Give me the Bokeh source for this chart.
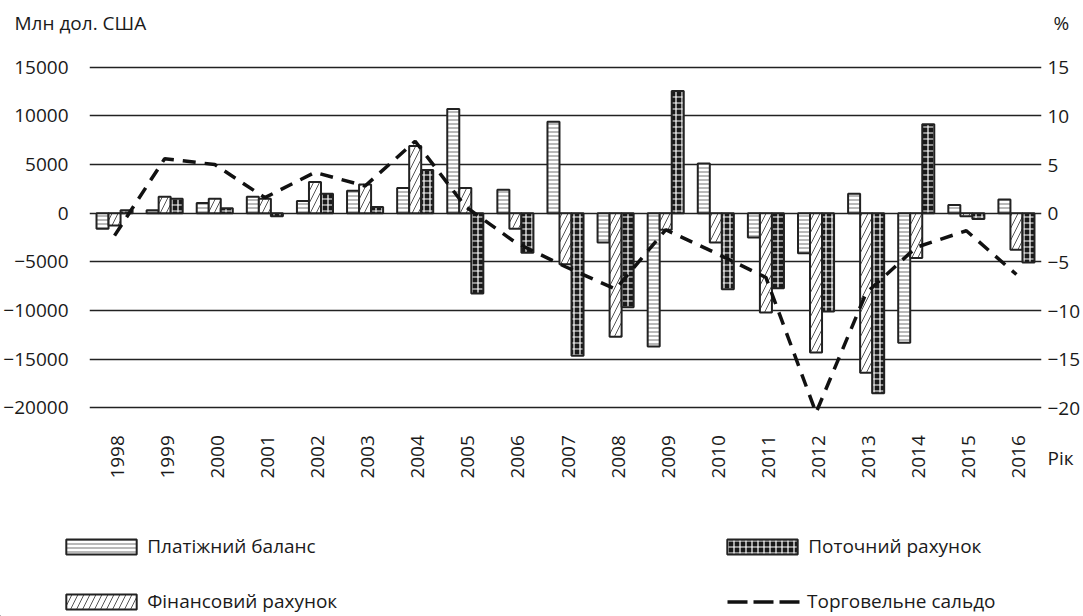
import math
from bokeh.plotting import figure
from bokeh.models import (ColumnDataSource, Range1d, LinearAxis, FixedTicker,
                          Legend, LegendItem)
from bokeh.layouts import column
from bokeh.transform import dodge
from bokeh.core.properties import value
from bokeh.embed import file_html
from bokeh.resources import INLINE

# ---------------- data ----------------
years = ["1998", "1999", "2000", "2001", "2002", "2003", "2004", "2005", "2006", "2007",
         "2008", "2009", "2010", "2011", "2012", "2013", "2014", "2015", "2016"]
# Платіжний баланс, млн дол. США
balance = [-1600, 300, 1050, 1700, 1250, 2300, 2600, 10700, 2400, 9400,
           -3000, -13700, 5100, -2500, -4100, 2000, -13300, 850, 1400]
# Фінансовий рахунок, млн дол. США
financial = [-1250, 1700, 1500, 1500, 3200, 2950, 6900, 2600, -1600, -5250,
             -12700, -1700, -3000, -10200, -14300, -16400, -4600, -300, -3750]
# Поточний рахунок, млн дол. США
current = [300, 1500, 500, -300, 2000, 650, 4450, -8250, -4050, -14650,
           -9650, 12550, -7800, -7700, -10100, -18500, 9150, -600, -5050]
# Торговельне сальдо, %
trade = [-2.3, 5.6, 5.0, 1.6, 4.2, 2.8, 7.4, 0.7, -3.0, -5.5,
         -7.8, -1.7, -4.1, -6.6, -20.5, -8.2, -3.5, -1.8, -6.3]

left_ticks = [15000, 10000, 5000, 0, -5000, -10000, -15000, -20000]
left_labels = ["15000", "10000", "5000", "0", "\u22125000", "\u221210000", "\u221215000", "\u221220000"]
right_ticks = [15, 10, 5, 0, -5, -10, -15, -20]
right_labels = ["15", "10", "5", "0", "\u22125", "\u221210", "\u221215", "\u221220"]

series_names = ["Платіжний баланс", "Фінансовий рахунок", "Поточний рахунок", "Торговельне сальдо"]
unit_left = "Млн дол. США"
unit_right = "%"
x_title = "Рік"

FONT = "Open Sans"
FS = "19px"
INK = "#1a1a1a"
W_PAGE = 1083

# styles
W = 0.24
BAR_LINE = dict(line_color="#222222", line_width=2)
STY_BAL = dict(fill_color="white", hatch_pattern="horizontal_line", hatch_color="#8a8a8a",
               hatch_scale=4, hatch_weight=1.2, **BAR_LINE)
STY_FIN = dict(fill_color="white", hatch_pattern="right_diagonal_line", hatch_color="#555555",
               hatch_scale=12, hatch_weight=1, **BAR_LINE)
STY_CUR = dict(fill_color="#1a1a1a", hatch_pattern="cross", hatch_color="white",
               hatch_scale=6, hatch_weight=1.2, **BAR_LINE)
STY_TR = dict(line_color="#111111", line_width=3.5)


def blank_fig(h):
    f = figure(width=W_PAGE, height=h, x_range=Range1d(0, W_PAGE), y_range=Range1d(0, h),
               x_axis_type=None, y_axis_type=None, output_backend="svg",
               toolbar_location=None, min_border=0, frame_align=False)
    f.outline_line_color = None
    f.background_fill_color = "white"
    f.border_fill_color = "white"
    f.grid.visible = False
    return f

# ---------------- top strip (unit captions) ----------------
TOP_H = 45
top = blank_fig(TOP_H)
top.text(x=[14], y=[TOP_H - 22.5], text=[unit_left], text_font=value(FONT),
         text_font_size=FS, text_color=INK, text_align="left", text_baseline="middle")
top.text(x=[1053], y=[TOP_H - 22.5], text=[unit_right], text_font=value(FONT),
         text_font_size=FS, text_color=INK, text_align="left", text_baseline="middle")

# ---------------- main chart ----------------
src = ColumnDataSource(dict(year=years, balance=balance, financial=financial,
                            current=current, trade=trade))

MAIN_H = 435
# frame: page y 57..480 (423 px), 102.74 units per px
Y_TOP, Y_BOT = 16000, -27459
p = figure(x_range=years, y_range=Range1d(Y_BOT, Y_TOP),
           width=W_PAGE, height=MAIN_H, output_backend="svg", toolbar_location=None,
           x_axis_location=None, frame_align=False,
           min_border_left=88, min_border_right=41, min_border_top=12, min_border_bottom=0)
p.extra_y_ranges = {"pct": Range1d(Y_BOT / 1000.0, Y_TOP / 1000.0)}
p.outline_line_color = None
p.background_fill_color = "white"
p.border_fill_color = "white"

p.xgrid.visible = False
p.ygrid.ticker = FixedTicker(ticks=left_ticks)
p.ygrid.grid_line_color = "#222222"
p.ygrid.grid_line_width = 1.5

yl = p.yaxis[0]
yl.ticker = FixedTicker(ticks=left_ticks)
yl.major_label_overrides = {t: l for t, l in zip(left_ticks, left_labels)}
# right axis: % ticks plus the x-axis caption "Рік" below the plot
rk_pos = -25.15
yr = LinearAxis(y_range_name="pct", ticker=FixedTicker(ticks=right_ticks + [rk_pos]))
ov = {t: l for t, l in zip(right_ticks, right_labels)}
ov[rk_pos] = x_title
yr.major_label_overrides = ov
p.add_layout(yr, "right")

for ax in [yl, yr]:
    ax.axis_line_color = None
    ax.major_tick_line_color = None
    ax.minor_tick_line_color = None
    ax.major_tick_out = 0
    ax.major_tick_in = 0
    ax.major_label_text_font = FONT
    ax.major_label_text_font_size = FS
    ax.major_label_text_color = INK
yl.major_label_standoff = 21
yr.major_label_standoff = 6

r_bal = p.vbar(x=dodge("year", -W, range=p.x_range), top="balance", bottom=0, width=W,
               source=src, **STY_BAL)
r_fin = p.vbar(x=dodge("year", 0, range=p.x_range), top="financial", bottom=0, width=W,
               source=src, **STY_FIN)
r_cur = p.vbar(x=dodge("year", W, range=p.x_range), top="current", bottom=0, width=W,
               source=src, **STY_CUR)
r_tr = p.line(x="year", y="trade", source=src, y_range_name="pct",
              line_dash="13 9", **STY_TR)

# year labels (x-axis categories), rotated
p.text(x=dodge("year", 0.05, range=p.x_range), y=-22800, text="year", source=src,
       angle=math.pi / 2, text_align="right", text_baseline="middle",
       text_font=value(FONT), text_font_size=FS, text_color=INK)

# ---------------- legend strip ----------------
LEG_H = 616 - TOP_H - MAIN_H
lg = blank_fig(LEG_H)
# legend proxies: one zero-height glyph each, lying outside the visible range
d_bal = lg.vbar(x=[-100], top=[0], bottom=[0], width=1, **STY_BAL)
d_fin = lg.vbar(x=[-100], top=[0], bottom=[0], width=1, **STY_FIN)
d_cur = lg.vbar(x=[-100], top=[0], bottom=[0], width=1, **STY_CUR)
d_tr = lg.line(x=[-100, -99], y=[0, 0], line_dash="20 6", **STY_TR)


def add_leg(label, rend, x, y, gw=88, gh=19, standoff=2):
    leg = Legend(items=[LegendItem(label=label, renderers=[rend])], location=(x, y),
                 orientation="vertical", padding=0, margin=0, spacing=0,
                 border_line_color=None, background_fill_alpha=0,
                 glyph_width=gw, glyph_height=gh, label_height=26, label_standoff=standoff,
                 label_text_font=FONT, label_text_font_size=FS, label_text_color=INK)
    lg.add_layout(leg, "center")

add_leg(series_names[0], d_bal, 57.2, 57)
add_leg(series_names[1], d_fin, 57.2, 2)
add_leg(series_names[2], d_cur, 718.2, 57)
add_leg(series_names[3], d_tr, 727, 2, gw=73, standoff=7)

layout = column(top, p, lg, spacing=0)
open("out.html", "w").write(file_html(layout, INLINE))
